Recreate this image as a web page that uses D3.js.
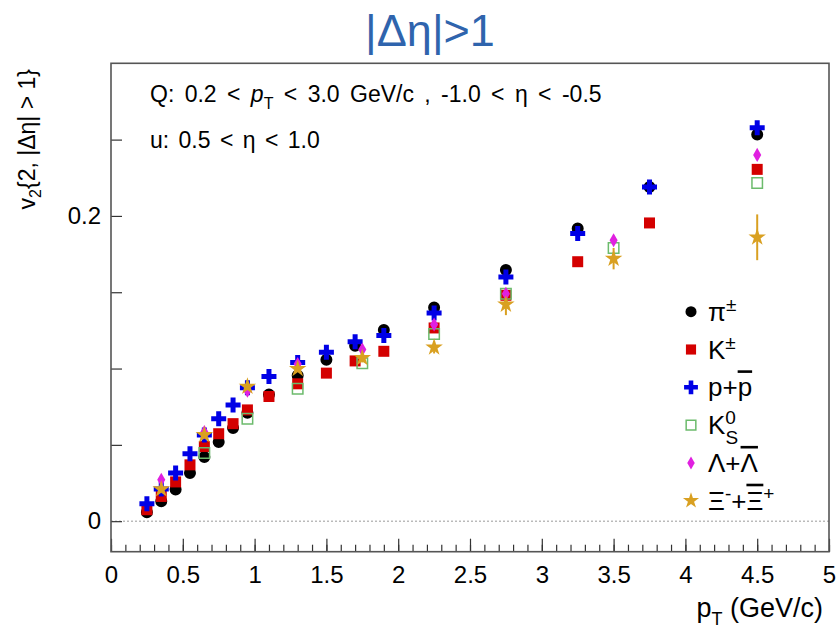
<!DOCTYPE html>
<html>
<head>
<meta charset="utf-8">
<script src="https://cdn.jsdelivr.net/npm/d3@7"></script>
<style>
  body { margin: 0; background: #fff; }
  text { font-family: "Liberation Sans", Arial, sans-serif; }
</style>
</head>
<body>
<script>
// pT bins
var ptIdent = [0.25, 0.35, 0.45, 0.55, 0.65, 0.75, 0.85, 0.95, 1.1, 1.3, 1.5, 1.7, 1.9, 2.25, 2.75, 3.25, 3.75, 4.5];
var ptStrange = [0.35, 0.65, 0.95, 1.3, 1.75, 2.25, 2.75, 3.5, 4.5];
var ptK0s = [0.65, 0.95, 1.3, 1.75, 2.25, 2.75, 3.5, 4.5];

// v2 values
var pion = [0.0058, 0.013, 0.0207, 0.0315, 0.042, 0.0518, 0.061, 0.071, 0.083, 0.0954, 0.1057, 0.115, 0.1253, 0.140, 0.1645, 0.1917, 0.219, 0.2534];
var kaon = [0.0075, 0.0162, 0.0257, 0.0369, 0.0489, 0.0573, 0.0639, 0.0729, 0.0817, 0.090, 0.097, 0.105, 0.1113, 0.1266, 0.148, 0.170, 0.1954, 0.2305];
var proton = [0.0114, 0.021, 0.0315, 0.0441, 0.0565, 0.0671, 0.0761, 0.0874, 0.0948, 0.104, 0.1107, 0.1176, 0.1216, 0.1364, 0.160, 0.1885, 0.219, 0.2577];
var k0s = [0.0446, 0.0671, 0.0867, 0.1035, 0.1227, 0.149, 0.179, 0.2216];
var lambda = [0.0271, 0.0584, 0.0855, 0.103, 0.1124, 0.1288, 0.149, 0.184, 0.240];
var xi = [0.021, 0.0565, 0.0882, 0.0998, 0.107, 0.1139, 0.142, 0.172, 0.186];
var xiErr = [0.001, 0.002, 0.002, 0.002, 0.003, 0.004, 0.007, 0.007, 0.015];

var xTicks = [0, 0.5, 1, 1.5, 2, 2.5, 3, 3.5, 4, 4.5, 5];
var yTicks = [0, 0.05, 0.1, 0.15, 0.2, 0.25];
var yLabels = [0, 0.2];

var w = 837, h = 632;
var padL = 111, padR = 829, padT = 63.3, padB = 551.7;

var x = d3.scaleLinear().domain([0, 5]).range([padL, padR]);
var y = d3.scaleLinear().domain([-0.02, 0.3]).range([padB, padT]);

var svg = d3.select("body").append("svg").attr("width", w).attr("height", h);

// title
svg.append("text").attr("x", 430).attr("y", 46).attr("text-anchor", "middle")
    .attr("font-size", 45).attr("fill", "#2f64ad").text("|Δη|>1");

// zero line
svg.append("line").attr("x1", padL).attr("x2", padR).attr("y1", y(0)).attr("y2", y(0))
    .attr("stroke", "#999").attr("stroke-width", 1).attr("stroke-dasharray", "2,2");

// x axis, major + minor ticks inside
var xMinor = d3.range(0, 5.001, 0.1);
svg.append("g").attr("transform", "translate(0," + padB + ")")
    .call(d3.axisBottom(x).tickValues(xMinor).tickSize(-7).tickFormat(""))
    .call(g => g.select(".domain").remove());
svg.append("g").attr("transform", "translate(0," + padB + ")")
    .call(d3.axisBottom(x).tickValues(xTicks).tickSize(-13).tickPadding(14).tickFormat(d3.format("")))
    .call(g => g.select(".domain").remove())
    .selectAll("text").attr("font-size", 24).attr("fill", "#000");

// y axis
svg.append("g").attr("transform", "translate(" + padL + ",0)")
    .call(d3.axisLeft(y).tickValues(yTicks).tickSize(-11).tickPadding(10)
        .tickFormat(d => yLabels.indexOf(d) >= 0 ? d3.format("")(d) : ""))
    .call(g => g.select(".domain").remove())
    .selectAll("text").attr("font-size", 24).attr("fill", "#000");

svg.selectAll(".tick line").attr("stroke", "#333").attr("stroke-width", 1.2);

// frame
svg.append("rect").attr("x", padL).attr("y", padT).attr("width", padR - padL).attr("height", padB - padT)
    .attr("fill", "none").attr("stroke", "#555").attr("stroke-width", 1.6);

// axis titles
var xt = svg.append("text").attr("x", 823).attr("y", 617).attr("text-anchor", "end").attr("font-size", 27);
xt.append("tspan").text("p");
xt.append("tspan").attr("font-size", 18).attr("dy", 8).text("T");
xt.append("tspan").attr("dy", -8).text(" (GeV/c)");

var yt = svg.append("text").attr("transform", "translate(35,69) rotate(-90)").attr("text-anchor", "end").attr("font-size", 23);
yt.append("tspan").text("v");
yt.append("tspan").attr("font-size", 16).attr("dy", 6).text("2");
yt.append("tspan").attr("dy", -6).text("{2, |Δη| > 1}");

// cut labels
var q = svg.append("text").attr("x", 150).attr("y", 102).attr("font-size", 23).attr("word-spacing", 4);
q.append("tspan").text("Q: 0.2 < ");
q.append("tspan").attr("font-style", "italic").text("p");
q.append("tspan").attr("font-size", 16).attr("dy", 7).text("T");
q.append("tspan").attr("dy", -7).text(" < 3.0 GeV/c , -1.0 < η < -0.5");
svg.append("text").attr("x", 150).attr("y", 148).attr("font-size", 23).attr("word-spacing", 3)
    .text("u: 0.5 < η < 1.0");

// series, in drawing order
var series = [
    {name: "pion", pt: ptIdent, v: pion, type: d3.symbolCircle, size: 113, fill: "#000", stroke: "none"},
    {name: "kaon", pt: ptIdent, v: kaon, type: d3.symbolSquare, size: 121, fill: "#d40000", stroke: "none"},
    {name: "proton", pt: ptIdent, v: proton, type: d3.symbolCross, size: 125, fill: "#0000e6", stroke: "none"},
    {name: "k0s", pt: ptK0s, v: k0s, type: d3.symbolSquare, size: 110, fill: "none", stroke: "#6cbb6c"},
    {name: "lambda", pt: ptStrange, v: lambda, type: d3.symbolDiamond, size: 57, fill: "#e020e0", stroke: "none"},
    {name: "xi", pt: ptStrange, v: xi, type: d3.symbolStar, size: 95, fill: "#d9a021", stroke: "none"}
];

// Xi error bars
svg.selectAll(".xierr").data(ptStrange).enter().append("line").attr("class", "xierr")
    .attr("x1", d => x(d)).attr("x2", d => x(d))
    .attr("y1", (d, i) => y(xi[i] - xiErr[i])).attr("y2", (d, i) => y(xi[i] + xiErr[i]))
    .attr("stroke", "#d9a021").attr("stroke-width", 2);

series.forEach(function (s) {
    svg.selectAll(".pt-" + s.name).data(s.pt).enter().append("path").attr("class", "pt-" + s.name)
        .attr("d", d3.symbol().type(s.type).size(s.size))
        .attr("fill", s.fill).attr("stroke", s.stroke).attr("stroke-width", 1.5)
        .attr("transform", (d, i) => "translate(" + x(d) + "," + y(s.v[i]) + ")");
});

// legend
var legY = 311.7, legStep = 37.8, legX = 691;
var leg = svg.selectAll(".leg").data(series).enter().append("g").attr("class", "leg")
    .attr("transform", (d, i) => "translate(" + legX + "," + (legY + i * legStep) + ")");
leg.append("path").attr("d", d => d3.symbol().type(d.type).size(d.size * 0.85)())
    .attr("fill", d => d.fill).attr("stroke", d => d.stroke).attr("stroke-width", 1.5);

function sup(t, s) { t.append("tspan").attr("font-size", 19).attr("dy", -10).text(s); }
var lt = leg.append("text").attr("x", 17).attr("y", 9).attr("font-size", 26);
lt.each(function (d) {
    var t = d3.select(this);
    if (d.name == "pion") { t.append("tspan").text("π"); sup(t, "±"); }
    if (d.name == "kaon") { t.append("tspan").text("K"); sup(t, "±"); }
    if (d.name == "proton") {
        t.append("tspan").text("p+");
        t.append("tspan").style("text-decoration", "overline").text("p");
    }
    if (d.name == "k0s") {
        t.append("tspan").text("K");
        sup(t, "0");
        t.append("tspan").attr("font-size", 19).attr("dx", -10.5).attr("dy", 20).text("S");
    }
    if (d.name == "lambda") {
        t.append("tspan").text("Λ+");
        t.append("tspan").style("text-decoration", "overline").text("Λ");
    }
    if (d.name == "xi") {
        t.append("tspan").text("Ξ");
        sup(t, "-");
        t.append("tspan").attr("dy", 10).text("+");
        t.append("tspan").style("text-decoration", "overline").text("Ξ");
        sup(t, "+");
    }
});
</script>
</body>
</html>
